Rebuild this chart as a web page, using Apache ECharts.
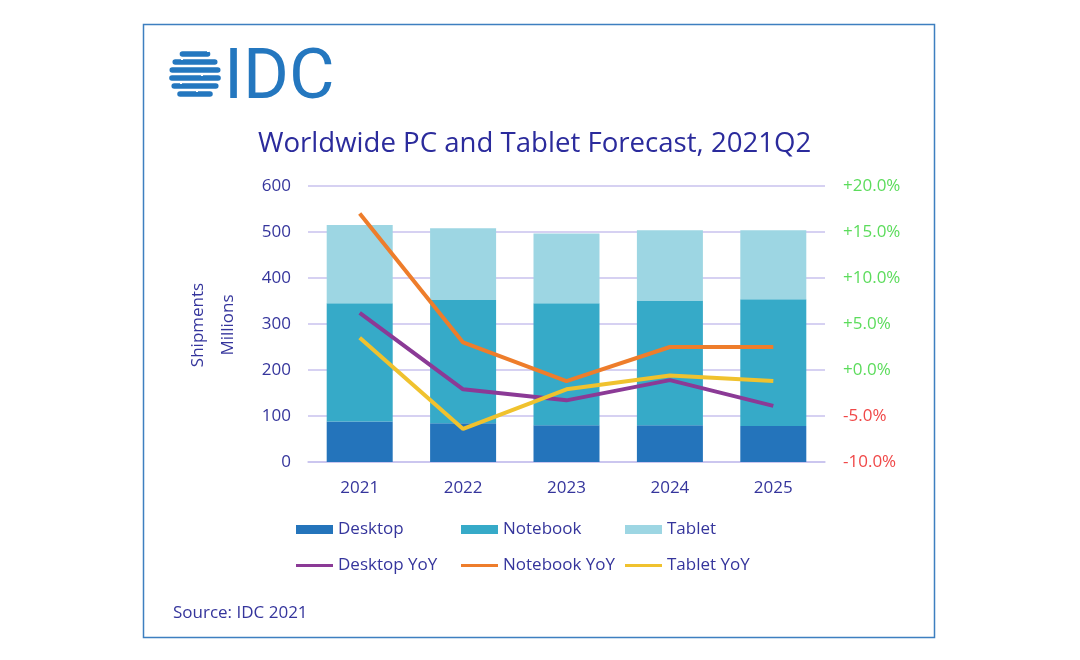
<!DOCTYPE html>
<html>
<head>
<meta charset="utf-8">
<script src="https://cdn.jsdelivr.net/npm/echarts@6/dist/echarts.min.js"></script>
<style>
html,body{margin:0;padding:0;background:#fff;}
#chart{width:1080px;height:660px;}
</style>
</head>
<body>
<div id="chart"></div>
<script>
const years = ['2021', '2022', '2023', '2024', '2025'];
const desktop = [88, 84, 80, 80, 78];
const notebook = [257, 268, 265, 271, 276];
const tablet = [170, 156, 152, 153, 150];
const desktopYoY = [6.2, -2.1, -3.3, -1.1, -3.9];
const notebookYoY = [17.0, 3.0, -1.2, 2.5, 2.5];
const tabletYoY = [3.5, -6.4, -2.1, -0.6, -1.2];
const leftTicks = { min: 0, max: 600, interval: 100 };
const rightTicks = { min: -10, max: 20, interval: 5 };
const barNames = ['Desktop', 'Notebook', 'Tablet'];
const lineNames = ['Desktop YoY', 'Notebook YoY', 'Tablet YoY'];

const FONT = '"Open Sans", "Noto Sans", sans-serif';
const INK = '#35359c';
const C = {
  desktop: '#2474bb', notebook: '#36aac8', tablet: '#9dd6e3',
  dYoY: '#8b3a96', nYoY: '#ee7d2b', tYoY: '#f0c22e'
};

const chart = echarts.init(document.getElementById('chart'), null, { renderer: 'canvas' });

// logo stripes (globe)
const logo = [];
const cx = 195, cy = 75, r = 26;
[-21, -13, -5, 3, 11, 19].forEach(function (dy) {
  const half = Math.sqrt(Math.max(r * r - dy * dy, 60));
  logo.push({
    type: 'rect',
    shape: { x: cx - half, y: cy + dy - 2.8, width: half * 2, height: 5.6, r: 2.8 },
    style: { fill: '#2477bf' }
  });
});
[[207, 49], [181, 57], [201, 73], [180, 81], [196, 89]].forEach(function (p) {
  logo.push({ type: 'rect', shape: { x: p[0], y: p[1], width: 2, height: 3 }, style: { fill: '#fff' } });
});

function pctFmt(v) {
  const s = (v >= 0 ? '+' : '') + v.toFixed(1) + '%';
  return v >= 0 ? '{g|' + s + '}' : '{r|' + s + '}';
}

const legendX = [291, 456, 620];
const legends = [];
barNames.forEach(function (n, i) {
  legends.push({
    top: 516, left: legendX[i], itemWidth: 37, itemHeight: 9, icon: 'rect', data: [n], selectedMode: false,
    textStyle: { color: INK, fontFamily: FONT, fontSize: 17 }
  });
});
lineNames.forEach(function (n, i) {
  legends.push({
    top: 552, left: legendX[i], itemWidth: 37, itemHeight: 3, icon: 'rect', data: [n], selectedMode: false,
    textStyle: { color: INK, fontFamily: FONT, fontSize: 17 }
  });
});

const option = {
  backgroundColor: '#ffffff',
  animation: false,
  grid: { left: 308, right: 255, top: 186, bottom: 198, containLabel: false },
  graphic: [
    { type: 'rect', shape: { x: 143.5, y: 24.5, width: 791, height: 613 }, style: { fill: 'none', stroke: '#3d7fc0', lineWidth: 1.5 }, z: 0 },
    ...logo,
    { type: 'text', x: 224, y: 80, style: { text: 'IDC', font: '70px Roboto, "Open Sans", sans-serif', fill: '#2477bf', textVerticalAlign: 'middle' } },
    { type: 'text', x: 258, y: 144, style: { text: 'Worldwide PC and Tablet Forecast, 2021Q2', font: '27.6px ' + FONT, fill: '#2b2b9c', textVerticalAlign: 'middle' } },
    { type: 'text', x: 198, y: 325, rotation: Math.PI / 2, style: { text: 'Shipments', font: '17px ' + FONT, fill: INK, textAlign: 'center', textVerticalAlign: 'middle' } },
    { type: 'text', x: 228, y: 325, rotation: Math.PI / 2, style: { text: 'Millions', font: '17px ' + FONT, fill: INK, textAlign: 'center', textVerticalAlign: 'middle' } },
    { type: 'text', x: 173, y: 613, style: { text: 'Source: IDC 2021', font: '17px ' + FONT, fill: INK, textVerticalAlign: 'middle' } }
  ],
  legend: legends,
  xAxis: {
    type: 'category', data: years,
    axisLine: { show: true, lineStyle: { color: '#c8c2ee', width: 1.5 } },
    axisTick: { show: false },
    axisLabel: { color: INK, fontFamily: FONT, fontSize: 17, margin: 18 }
  },
  yAxis: [
    {
      type: 'value', min: leftTicks.min, max: leftTicks.max, interval: leftTicks.interval,
      axisLine: { show: false }, axisTick: { show: false },
      axisLabel: { color: INK, fontFamily: FONT, fontSize: 17, margin: 17 },
      splitLine: { lineStyle: { color: '#c8c2ee', width: 1.5 } }
    },
    {
      type: 'value', min: rightTicks.min, max: rightTicks.max, interval: rightTicks.interval,
      axisLine: { show: false }, axisTick: { show: false }, splitLine: { show: false },
      axisLabel: {
        margin: 18, formatter: pctFmt,
        rich: {
          g: { color: '#5cdc5c', fontFamily: FONT, fontSize: 17 },
          r: { color: '#f04848', fontFamily: FONT, fontSize: 17 }
        }
      }
    }
  ],
  series: [
    { name: barNames[0], type: 'bar', stack: 'units', data: desktop, barWidth: 66, itemStyle: { color: C.desktop } },
    { name: barNames[1], type: 'bar', stack: 'units', data: notebook, barWidth: 66, itemStyle: { color: C.notebook } },
    { name: barNames[2], type: 'bar', stack: 'units', data: tablet, barWidth: 66, itemStyle: { color: C.tablet } },
    { name: lineNames[0], type: 'line', yAxisIndex: 1, data: desktopYoY, symbol: 'none', z: 5, lineStyle: { color: C.dYoY, width: 4 }, itemStyle: { color: C.dYoY } },
    { name: lineNames[1], type: 'line', yAxisIndex: 1, data: notebookYoY, symbol: 'none', z: 5, lineStyle: { color: C.nYoY, width: 4 }, itemStyle: { color: C.nYoY } },
    { name: lineNames[2], type: 'line', yAxisIndex: 1, data: tabletYoY, symbol: 'none', z: 5, lineStyle: { color: C.tYoY, width: 4 }, itemStyle: { color: C.tYoY } }
  ]
};
chart.setOption(option);
</script>
</body>
</html>
